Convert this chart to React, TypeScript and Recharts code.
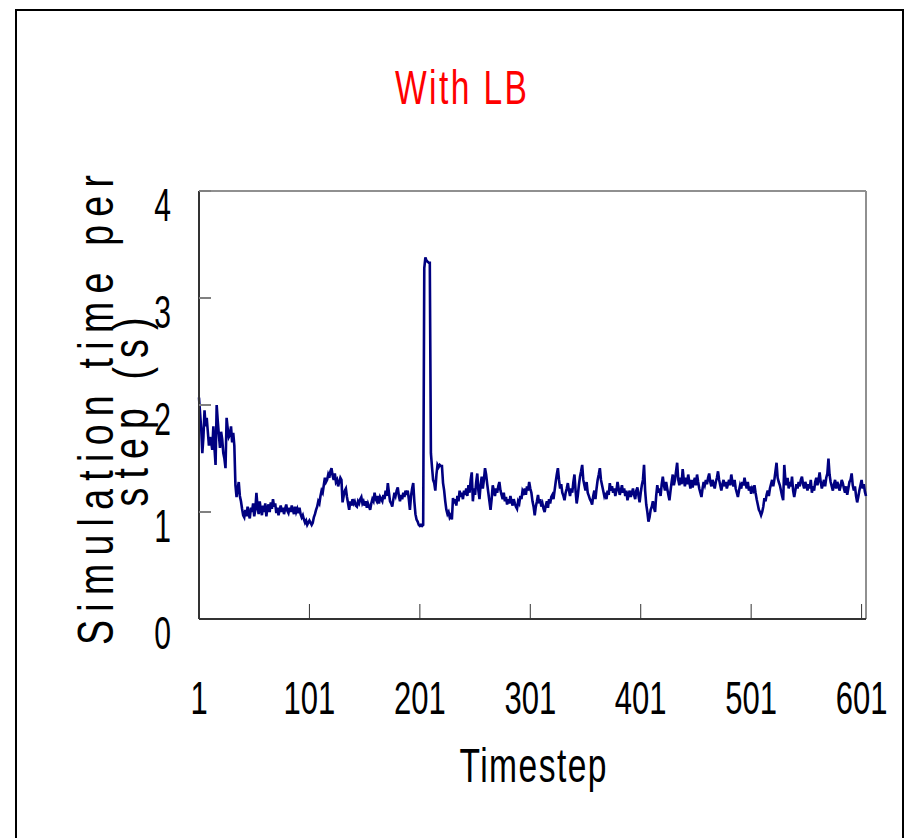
import React from 'react';
import { LineChart, Line, XAxis, YAxis, ReferenceLine } from 'recharts';

// simulation time per step (s), timesteps 1..605
const stepTime = [
  2.07, 1.92, 1.78, 1.55, 1.7, 1.95, 1.8, 1.88, 1.75, 1.62,
  1.7, 1.66, 1.58, 1.8, 1.6, 1.44, 2.0, 1.85, 1.72, 1.6,
  1.75, 1.68, 1.55, 1.5, 1.41, 1.88, 1.78, 1.7, 1.72, 1.8,
  1.65, 1.74, 1.62, 1.25, 1.14, 1.22, 1.28, 1.15, 1.1, 1.03,
  0.97, 0.95, 1.02, 0.96, 1.05, 0.98, 0.94, 1.04, 1.0, 1.08,
  0.96, 1.02, 1.18, 1.05, 0.98, 1.1, 1.02, 0.97, 1.06, 1.0,
  1.08, 0.96, 1.04, 1.07, 1.0, 1.09, 1.03, 1.12, 1.05, 1.08,
  0.99, 1.04, 0.97, 1.02, 1.06, 1.0, 1.04, 0.98, 1.03, 1.07,
  1.01, 0.99, 1.04, 1.0, 1.06, 1.02, 0.98, 1.05, 1.0, 1.03,
  0.99, 1.04, 0.98, 0.95, 0.97, 0.93, 0.9, 0.92, 0.88, 0.9,
  // 101
  0.92, 0.9, 0.88, 0.9, 0.95, 0.98, 1.02, 1.05, 1.1, 1.08,
  1.15, 1.2, 1.18, 1.25, 1.32, 1.28, 1.3, 1.35, 1.32, 1.38,
  1.41, 1.34, 1.3, 1.36, 1.28, 1.3, 1.24, 1.28, 1.32, 1.3,
  1.09, 1.15, 1.2, 1.22, 1.14, 1.08, 1.02, 1.1, 1.06, 1.12,
  1.08, 1.1, 1.06, 1.05, 1.1, 1.08, 1.12, 1.14, 1.08, 1.1,
  1.06, 1.1, 1.04, 1.08, 1.05, 1.02, 1.08, 1.12, 1.1, 1.18,
  1.12, 1.1, 1.15, 1.08, 1.14, 1.12, 1.1, 1.16, 1.12, 1.2,
  1.15, 1.27, 1.18, 1.1, 1.08, 1.05, 1.12, 1.18, 1.15, 1.2,
  1.23, 1.15, 1.1, 1.16, 1.12, 1.18, 1.14, 1.2, 1.16, 1.2,
  1.12, 1.02, 1.15, 1.22, 1.27, 1.1, 0.98, 0.93, 0.91, 0.88,
  // 201
  0.87, 0.88, 0.87, 0.88, 3.28, 3.38, 3.35, 3.34, 3.33, 3.33,
  1.55, 1.42, 1.3, 1.27, 1.2, 1.35, 1.44, 1.42, 1.44, 1.43,
  1.43, 1.27, 1.2, 1.1, 1.02, 0.98, 1.0, 0.95, 0.97, 0.93,
  1.13, 1.08, 1.12, 1.06, 1.15, 1.1, 1.2, 1.14, 1.18, 1.12,
  1.2, 1.16, 1.22, 1.15, 1.25, 1.18, 1.3, 1.37, 1.1, 1.22,
  1.16, 1.28, 1.36, 1.2, 1.12, 1.25, 1.33, 1.22, 1.3, 1.41,
  1.35, 1.26, 1.18, 1.1, 1.02, 1.12, 1.25, 1.2, 1.15, 1.22,
  1.18, 1.24, 1.28, 1.2, 1.16, 1.12, 1.18, 1.1, 1.14, 1.07,
  1.12, 1.08, 1.15, 1.1, 1.06, 1.12, 1.08, 1.05, 1.03, 1.1,
  1.08, 1.15, 1.12, 1.2, 1.18, 1.22, 1.16, 1.24, 1.2, 1.28,
  // 301
  1.22, 1.18, 1.1, 1.05, 0.97, 1.05, 1.1, 1.16, 1.08, 1.12,
  1.05, 1.08, 1.03, 1.0, 1.06, 1.1, 1.04, 1.12, 1.08, 1.14,
  1.16, 1.12, 1.2, 1.28, 1.35, 1.41, 1.3, 1.22, 1.26, 1.18,
  1.15, 1.11, 1.18, 1.22, 1.27, 1.2, 1.15, 1.22, 1.18, 1.28,
  1.35, 1.2, 1.08, 1.15, 1.25, 1.33, 1.38, 1.44, 1.3, 1.25,
  1.2, 1.28, 1.18, 1.15, 1.12, 1.1, 1.07, 1.15, 1.2, 1.12,
  1.22, 1.3, 1.35, 1.41, 1.3, 1.25, 1.2, 1.15, 1.18, 1.12,
  1.2, 1.16, 1.27, 1.2, 1.24, 1.18, 1.22, 1.15, 1.2, 1.28,
  1.22, 1.16, 1.2, 1.25, 1.18, 1.22, 1.15, 1.2, 1.11, 1.16,
  1.2, 1.14, 1.18, 1.22, 1.16, 1.12, 1.2, 1.23, 1.15, 1.09,
  // 401
  1.18, 1.25, 1.3, 1.44, 1.2, 1.07, 1.0, 0.91, 0.95, 1.02,
  1.05, 1.1, 1.04, 1.0, 1.15, 1.25, 1.18, 1.22, 1.15, 1.26,
  1.33, 1.25, 1.2, 1.28, 1.22, 1.16, 1.11, 1.2, 1.28, 1.35,
  1.25, 1.3, 1.38, 1.46, 1.3, 1.25, 1.32, 1.26, 1.4, 1.3,
  1.24, 1.32, 1.26, 1.35, 1.28, 1.22, 1.3, 1.23, 1.28, 1.32,
  1.25, 1.35, 1.28, 1.22, 1.18, 1.14, 1.22, 1.28, 1.25, 1.3,
  1.26, 1.32, 1.36, 1.28, 1.24, 1.3, 1.26, 1.22, 1.28, 1.32,
  1.38, 1.3, 1.25, 1.2, 1.26, 1.3, 1.24, 1.28, 1.22, 1.26,
  1.3, 1.25, 1.35, 1.28, 1.24, 1.3, 1.22, 1.18, 1.14, 1.2,
  1.25, 1.22, 1.28, 1.25, 1.32, 1.26, 1.22, 1.28, 1.2, 1.24,
  // 501
  1.17, 1.22, 1.2, 1.25, 1.18, 1.12, 1.07, 1.02, 1.0, 0.97,
  1.0, 1.05, 1.13, 1.1, 1.16, 1.2, 1.15, 1.22, 1.26, 1.3,
  1.24, 1.3, 1.38, 1.46, 1.32, 1.28, 1.25, 1.2, 1.15, 1.11,
  1.44, 1.3, 1.25, 1.32, 1.22, 1.28, 1.24, 1.33, 1.2, 1.14,
  1.2, 1.26, 1.22, 1.28, 1.24, 1.3, 1.33, 1.26, 1.22, 1.28,
  1.25, 1.2, 1.26, 1.22, 1.3, 1.18, 1.24, 1.2, 1.28, 1.32,
  1.25, 1.3, 1.37, 1.28, 1.22, 1.26, 1.3, 1.24, 1.32, 1.36,
  1.5, 1.35, 1.28, 1.24, 1.2, 1.26, 1.3, 1.22, 1.28, 1.25,
  1.2, 1.24, 1.3, 1.27, 1.22, 1.18, 1.24, 1.16, 1.22, 1.28,
  1.3, 1.36, 1.25, 1.2, 1.24, 1.15, 1.09, 1.14, 1.2, 1.25,
  // 601
  1.3, 1.22, 1.26, 1.19, 1.15,
];

const xTicks = [1, 101, 201, 301, 401, 501, 601];
const yTicks = [0, 1, 2, 3, 4];

const data = stepTime.map((v, i) => ({ step: i + 1, time: v }));

const FONT = '"Liberation Sans", Arial, sans-serif';

// squeezed text, like the narrow Excel rendering
function Narrow({ x, y, size, sx, rotate = 0, anchor = 'middle', fill = '#000', length, children }: any) {
  return (
    <text
      transform={`translate(${x},${y}) rotate(${rotate}) scale(${sx},1)`}
      fontSize={size}
      fontFamily={FONT}
      textAnchor={anchor}
      fill={fill}
      textLength={length ? length / sx : undefined}
      lengthAdjust={length ? 'spacing' : undefined}
    >
      {children}
    </text>
  );
}

const YTick = (props: any) => {
  const { x, y, payload } = props;
  return (
    <g>
      {payload.value > 0 && <line x1={x} y1={y} x2={x + 12} y2={y} stroke="#808080" strokeWidth={2} />}
      <Narrow x={x - 28} y={y + 30} size={47} sx={0.64} anchor="end">{payload.value}</Narrow>
    </g>
  );
};

const XTick = (props: any) => {
  const { x, y, payload } = props;
  return (
    <g>
      {payload.value > 1 && <line x1={x} y1={y} x2={x} y2={y - 15} stroke="#333" strokeWidth={1} />}
      <Narrow x={x} y={y + 95} size={47} sx={0.66}>{payload.value}</Narrow>
    </g>
  );
};

export default function App() {
  return (
    <div style={{ position: 'absolute', left: 0, top: 0, width: 913, height: 838, background: '#fff', overflow: 'hidden' }}>
      <div
        style={{
          position: 'absolute',
          left: 15,
          top: 9,
          width: 889,
          height: 900,
          border: '2px solid #000',
          boxSizing: 'border-box',
        }}
      />
      <div style={{ position: 'absolute', left: 0, top: 0 }}>
        <LineChart width={913} height={838} data={data} margin={{ top: 191, right: 47, bottom: 189, left: 139 }}>
          <XAxis
            dataKey="step"
            type="number"
            domain={[1, 605]}
            ticks={xTicks}
            interval={0}
            tickSize={0}
            tickMargin={0}
            tickLine={false}
            tick={<XTick />}
            height={30}
            axisLine={{ stroke: '#333', strokeWidth: 2 }}
          />
          <YAxis
            domain={[0, 4]}
            ticks={yTicks}
            interval={0}
            tickSize={0}
            tickMargin={0}
            tickLine={false}
            tick={<YTick />}
            width={60}
            axisLine={{ stroke: '#333', strokeWidth: 2 }}
          />
          <ReferenceLine y={4} stroke="#909090" strokeWidth={2} />
          <ReferenceLine x={605} stroke="#909090" strokeWidth={2} />
          <Line
            type="linear"
            dataKey="time"
            stroke="#000080"
            strokeWidth={2.6}
            dot={false}
            isAnimationActive={false}
          />
        </LineChart>
      </div>
      <svg width={913} height={838} style={{ position: 'absolute', left: 0, top: 0, pointerEvents: 'none' }}>
        <Narrow x={461} y={104} size={48} sx={0.7} fill="#ff0000" length={132}>With LB</Narrow>
        <Narrow x={533} y={782} size={48} sx={0.7} length={147}>Timestep</Narrow>
        <Narrow x={113} y={410} size={50} sx={0.75} rotate={-90} length={470}>Simulation time per</Narrow>
        <Narrow x={148} y={412} size={50} sx={0.75} rotate={-90} length={189}>step (s)</Narrow>
      </svg>
    </div>
  );
}
